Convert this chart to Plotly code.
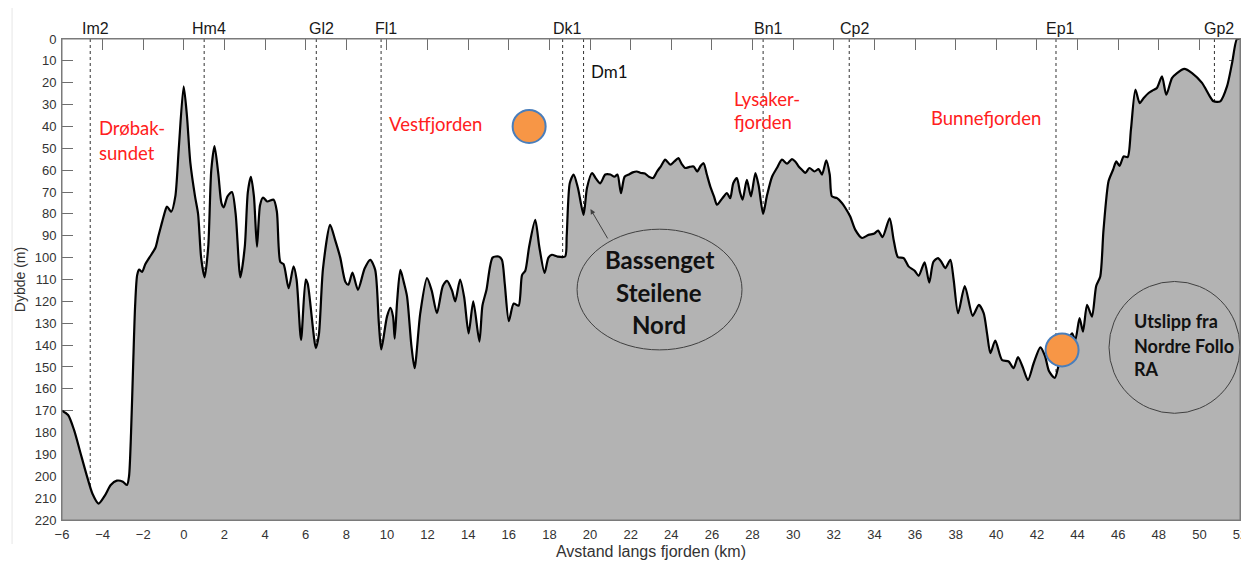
import plotly.graph_objects as go

# ---------------- data ----------------
distance_km = [
    -6.0, -5.7, -5.4, -5.1, -4.8, -4.5, -4.2, -3.9, -3.6, -3.3, -3.0, -2.8, -2.7, -2.6, -2.5, -2.4,
    -2.3, -2.2, -2.06, -1.9, -1.7, -1.4, -1.25, -1.08, -0.9, -0.83, -0.62, -0.42, -0.25, -0.01,
    0.15, 0.32, 0.55, 0.7, 0.85, 1.02, 1.2, 1.35, 1.51, 1.7, 1.85, 1.96, 2.15, 2.37, 2.55, 2.78,
    3.0, 3.15, 3.3, 3.45, 3.6, 3.75, 3.9, 4.1, 4.42, 4.58, 4.75, 4.91, 5.16, 5.4, 5.55, 5.77,
    6.0, 6.1, 6.5, 6.65, 6.85, 7.2, 7.45, 7.7, 7.95, 8.1, 8.3, 8.57, 8.9, 9.18, 9.42, 9.6, 9.72,
    10.0, 10.17, 10.3, 10.38, 10.5, 10.66, 10.85, 10.99, 11.2, 11.36, 11.64, 11.97, 12.2, 12.46,
    12.75, 12.96, 13.2, 13.36, 13.6, 13.8, 14.02, 14.25, 14.55, 14.7, 14.9, 15.2, 15.5, 15.66,
    15.8, 16.0, 16.24, 16.48, 16.65, 16.81, 17.0, 17.3, 17.5, 17.76, 17.95, 18.12, 18.4, 18.77,
    18.85, 19.0, 19.19, 19.4, 19.68, 19.85, 20.1, 20.3, 20.5, 20.75, 21.0, 21.2, 21.35, 21.52,
    21.7, 21.9, 22.1, 22.3, 22.5, 22.7, 22.9, 23.1, 23.3, 23.5, 23.7, 23.95, 24.15, 24.35, 24.5,
    24.69, 24.9, 25.1, 25.27, 25.45, 25.59, 25.75, 25.92, 26.1, 26.25, 26.5, 26.74, 26.9, 27.05,
    27.23, 27.38, 27.51, 27.72, 27.92, 28.14, 28.3, 28.52, 28.7, 28.96, 29.2, 29.45, 29.7, 29.94,
    30.1, 30.27, 30.45, 30.6, 30.8, 31.05, 31.25, 31.42, 31.63, 31.8, 31.91, 32.16, 32.4, 32.57,
    32.81, 33.06, 33.39, 33.71, 34.0, 34.18, 34.4, 34.75, 34.95, 35.16, 35.44, 35.68, 35.98,
    36.18, 36.47, 36.7, 36.9, 37.13, 37.3, 37.49, 37.74, 37.9, 38.12, 38.45, 38.84, 39.14, 39.38,
    39.55, 39.71, 39.95, 40.28, 40.61, 40.85, 41.07, 41.3, 41.56, 41.84, 42.17, 42.4, 42.6, 42.88,
    43.1, 43.3, 43.5, 43.73, 43.89, 44.1, 44.27, 44.47, 44.71, 44.92, 45.12, 45.28, 45.53, 45.75,
    45.91, 46.07, 46.27, 46.47, 46.63, 46.85, 47.06, 47.26, 47.5, 47.7, 47.91, 48.16, 48.37,
    48.65, 48.9, 49.26, 49.64, 50.13, 50.5, 50.7, 51.03, 51.36, 51.61, 51.85, 52.0,
]
depth_m = [
    170, 172, 179, 189, 199, 208, 212.5, 209, 204, 202, 202.5, 204, 200, 180, 150, 122,
    108, 105.5, 106.5, 103, 100, 95.5, 90, 84, 78, 76.6, 79, 72, 50, 21.7,
    35, 56.7, 72, 80, 100, 109, 95, 60, 49, 62, 75, 77, 72, 70, 80, 109,
    95, 70, 63, 72, 95, 76, 72.5, 74.3, 73.5, 79, 102, 103, 114, 104, 110, 137.6,
    110, 112, 141.4, 135, 105, 85, 92, 100, 111, 112.4, 106.8, 114.7, 105, 101, 105.6, 130, 142,
    127, 123, 127, 137, 120, 105.6, 112, 117.8, 140, 150.6, 125.4, 109.4, 115, 125.4,
    113, 110.6, 115, 120, 110, 118, 134.6, 120, 138.4, 122, 114.7, 100, 99.5, 101,
    112, 129, 121, 122, 108, 106, 95, 82.7, 95, 107, 100, 98.7, 99.5, 99.5,
    90, 66, 62, 68, 80.4, 68, 61.3, 64, 66, 62, 62, 63, 62, 70.5,
    63, 62, 61, 60.6, 61.3, 61.5, 63, 63.6, 60.6, 58, 55.2, 57.5, 56, 54.5, 57,
    59, 58.5, 58.3, 60.6, 58, 56.8, 62, 67.5, 72, 75.8, 73, 70.5, 72.8, 66,
    63.6, 70, 73.5, 64.4, 72, 61.3, 67, 80, 72, 63, 59, 55.2, 57, 54.9,
    56, 58.3, 60, 61.3, 59, 60.6, 59.5, 62, 55.5, 62, 72, 72.8, 75, 77.3,
    81.2, 87.3, 91, 89.6, 89, 87.6, 90.6, 82, 92, 99.8, 100.2, 104, 106,
    108.3, 102.2, 111.4, 102, 100.2, 102, 104.8, 101, 110, 125.4, 113, 126.6, 121.6, 125.4,
    135, 143.7, 137.9, 146.8, 147.5, 150.6, 145.5, 150, 156, 148.3, 141, 145, 152, 155,
    148, 142, 138, 134.6, 137.6, 127.7, 133.8, 121.6, 127, 113, 108.6, 87.3, 65, 59.8,
    56, 58, 53.7, 54, 41.5, 23.2, 29.3, 27, 24.7, 23.5, 22.4, 17.1, 25.5,
    17.9, 15.6, 13.7, 15.6, 20.1, 26, 28.5, 28.5, 21.7, 11, 0, 0,
]

stations = ["Im2", "Hm4", "Gl2", "Fl1", "Dk1", "Dm1", "Bn1", "Cp2", "Ep1", "Gp2"]
station_km = [-4.61, 1.0, 6.52, 9.71, 18.65, 19.68, 28.52, 32.76, 42.94, 50.74]
top_labelled = ["Im2", "Hm4", "Gl2", "Fl1", "Dk1", "Bn1", "Cp2", "Ep1", "Gp2"]

x_ticks = list(range(-6, 53, 2))
y_ticks = list(range(0, 221, 10))
x_range = [-6, 52]
y_range = [220, 0]

# region labels (red): one entry per text line
region_lines = ["Drøbak-", "sundet", "Vestfjorden", "Lysaker-", "fjorden", "Bunnefjorden"]
region_km = [-4.3, -4.3, 12.38, 26.98, 26.98, 39.47]
region_depth = [40.6, 52.0, 38.8, 27.5, 38.0, 36.2]
region_anchor = ["left", "left", "center", "left", "left", "center"]

basin_lines = ["Bassenget", "Steilene", "Nord"]
basin_km = [23.41, 23.41, 23.41]
basin_depth = [101.0, 116.0, 130.8]

outlet_lines = ["Utslipp fra", "Nordre Follo", "RA"]
outlet_km = [46.7, 46.7, 46.7]
outlet_depth = [129.2, 140.2, 151.0]

marker_km = [17.0, 43.24]
marker_depth = [40.0, 142.2]

# ---------------- figure ----------------
fig = go.Figure()

# baseline at the axis bottom for the seabed fill
fig.add_trace(go.Scatter(
    x=[x_range[0], x_range[1]], y=[y_range[0], y_range[0]],
    mode="lines", line=dict(width=0, color="rgba(0,0,0,0)"),
    hoverinfo="skip", showlegend=False,
))
fig.add_trace(go.Scatter(
    x=distance_km, y=depth_m, mode="lines",
    line=dict(color="black", width=2.2, shape="spline", smoothing=0.7),
    fill="tonexty", fillcolor="#b3b3b3",
    showlegend=False, hoverinfo="x+y",
))
fig.add_trace(go.Scatter(
    x=marker_km, y=marker_depth, mode="markers",
    marker=dict(size=33, color="#f79646", line=dict(color="#4a7ebb", width=2)),
    showlegend=False, hoverinfo="skip",
))

shapes = []
for s, km in zip(stations, station_km):
    shapes.append(dict(type="line", xref="x", yref="y", x0=km, x1=km, y0=y_range[1], y1=y_range[0],
                       line=dict(color="#333333", width=1, dash="dot"), layer="below"))
# ellipse round basin label
shapes.append(dict(type="circle", xref="x", yref="y", x0=19.36, x1=27.48, y0=87.0, y1=142.2,
                   line=dict(color="#404040", width=1), layer="above"))
# circle round outlet label
shapes.append(dict(type="circle", xref="x", yref="y", x0=45.55, x1=52.0, y0=110.9, y1=171.2,
                   line=dict(color="#404040", width=1), layer="above"))
# connector from outlet marker to circle
shapes.append(dict(type="line", xref="x", yref="y", x0=marker_km[1] + 0.85, x1=45.55,
                   y0=marker_depth[1] - 0.8, y1=marker_depth[1] - 0.8,
                   line=dict(color="#404040", width=1), layer="below"))
# plot frame
shapes.append(dict(type="rect", xref="paper", yref="paper", x0=0, x1=1, y0=0, y1=1,
                   line=dict(color="#7a7a7a", width=1), layer="above"))
# faint screenshot edge at far left
shapes.append(dict(type="line", xref="paper", yref="paper", x0=-0.0424, x1=-0.0424, y0=-0.05, y1=1.07,
                   line=dict(color="#e6e6e6", width=1), layer="above"))

annotations = []
for s, km in zip(stations, station_km):
    if s in top_labelled:
        annotations.append(dict(x=km, y=1, xref="x", yref="paper", text=s, showarrow=False,
                                xshift=5, yshift=21, font=dict(family="Liberation Sans, Arial", size=16, color="#1a1a1a")))
dm_idx = stations.index("Dm1")
annotations.append(dict(x=20.95, y=14.8, xref="x", yref="y", text=stations[dm_idx], showarrow=False,
                        font=dict(family="Lato", size=17, color="#111111")))
for t, km, d, a in zip(region_lines, region_km, region_depth, region_anchor):
    annotations.append(dict(x=km, y=d, xref="x", yref="y", text=t, showarrow=False, xanchor=a,
                            font=dict(family="Lato", size=18.5, color="#ff2020")))
for t, km, d in zip(basin_lines, basin_km, basin_depth):
    annotations.append(dict(x=km, y=d, xref="x", yref="y", text="<b>" + t + "</b>", showarrow=False,
                            font=dict(family="Lato", size=24, color="#111111")))
for t, km, d in zip(outlet_lines, outlet_km, outlet_depth):
    annotations.append(dict(x=km, y=d, xref="x", yref="y", text="<b>" + t + "</b>", showarrow=False,
                            xanchor="left", font=dict(family="Lato", size=18, color="#111111")))
# arrow from ellipse to basin edge
annotations.append(dict(x=20.02, y=77.8, ax=20.91, ay=91.9, xref="x", yref="y", axref="x", ayref="y",
                        text="", showarrow=True, arrowhead=2, arrowsize=1, arrowwidth=1, arrowcolor="#404040"))

# the page body adds an 8 px margin, so the figure is 8 px smaller and offset
fig.update_layout(
    width=1241, height=556,
    margin=dict(l=54, r=9, t=31, b=44, autoexpand=False),
    paper_bgcolor="white", plot_bgcolor="white",
    shapes=shapes, annotations=annotations,
    showlegend=False,
    font=dict(family="Liberation Sans, Arial", size=13, color="#333333"),
)
fig.update_xaxes(
    range=x_range, tickvals=x_ticks, ticks="inside", ticklen=11, tickcolor="#6e6e6e",
    showgrid=False, zeroline=False, showline=True, linecolor="#7a7a7a", mirror="ticks",
    layer="below traces", automargin=False, ticklabelstandoff=2, ticklabeloverflow="allow",
    tickfont=dict(family="Liberation Sans, Arial", size=13, color="#333333"),
    title=dict(text="Avstand langs fjorden (km)", standoff=5,
               font=dict(family="Liberation Sans, Arial", size=16, color="#333333")),
)
fig.update_yaxes(
    range=y_range, tickvals=y_ticks, ticks="inside", ticklen=11, tickcolor="#6e6e6e",
    showgrid=False, zeroline=False, showline=True, linecolor="#7a7a7a", mirror="ticks",
    layer="below traces", automargin=False, ticklabelstandoff=2,
    tickfont=dict(family="Liberation Sans, Arial", size=13, color="#333333"),
    title=dict(text="Dybde (m)", standoff=5,
               font=dict(family="Liberation Sans, Arial", size=14, color="#333333")),
)

fig.write_html("out.html")
